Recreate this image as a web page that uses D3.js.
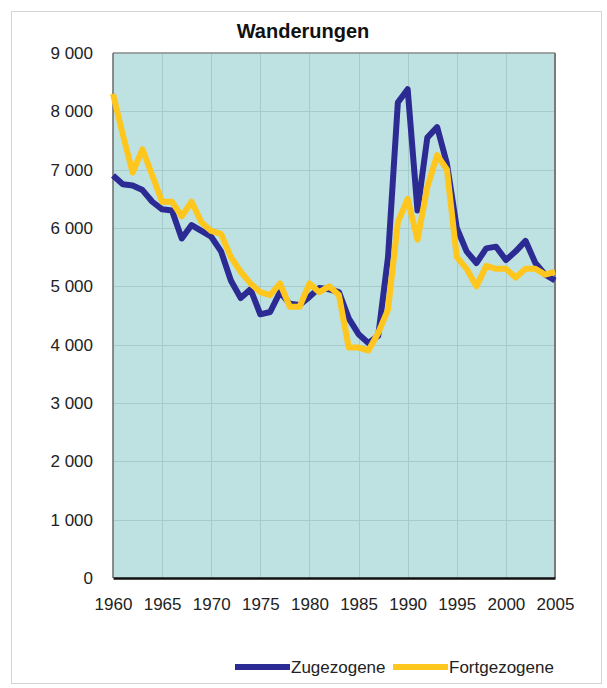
<!DOCTYPE html>
<html>
<head>
<meta charset="utf-8">
<script src="https://cdn.jsdelivr.net/npm/d3@7"></script>
<style>
  html, body { margin: 0; padding: 0; background: #ffffff; }
  svg { display: block; font-family: "Liberation Sans", Arial, sans-serif; }
</style>
</head>
<body>
<svg id="chart" width="607" height="688"></svg>
<script>
// Jahre 1960–2005
const years = d3.range(1960, 2006);

// Zugezogene (Zuzüge je Jahr)
const zugezogene = [
  6900, 6750, 6730, 6650, 6450, 6320, 6300, 5820, 6050, 5950,
  5850, 5600, 5100, 4800, 4950, 4520, 4560, 4900, 4700, 4680,
  4820, 4970, 4950, 4900, 4450, 4180, 4030, 4150, 5500, 8150,
  8380, 6300, 7550, 7730, 7100, 6000, 5600, 5400, 5650, 5680,
  5450, 5600, 5780, 5400, 5200, 5100
];

// Fortgezogene (Fortzüge je Jahr)
const fortgezogene = [
  8300, 7600, 6950, 7350, 6900, 6450, 6450, 6200, 6450, 6100,
  5950, 5900, 5500, 5250, 5050, 4900, 4850, 5050, 4650, 4650,
  5050, 4900, 5000, 4850, 3950, 3950, 3900, 4200, 4600, 6100,
  6500, 5800, 6700, 7250, 7000, 5500, 5300, 5000, 5350, 5300,
  5300, 5150, 5300, 5300, 5200, 5250
];

const xTickYears = [1960, 1965, 1970, 1975, 1980, 1985, 1990, 1995, 2000, 2005];
const yTickValues = [0, 1000, 2000, 3000, 4000, 5000, 6000, 7000, 8000, 9000];
const seriesNames = ["Zugezogene", "Fortgezogene"];
const seriesColors = ["#2b2b93", "#ffc61e"];
const title = "Wanderungen";

const svg = d3.select("#chart");
const plot = { left: 113, right: 555, top: 53, bottom: 578 };

const x = d3.scaleLinear().domain([1960, 2005]).range([plot.left, plot.right]);
const y = d3.scaleLinear().domain([0, 9000]).range([plot.bottom, plot.top]);

// Rahmen um die gesamte Grafik
svg.append("rect")
  .attr("x", 11.5).attr("y", 11.5)
  .attr("width", 590).attr("height", 672)
  .attr("fill", "#ffffff")
  .attr("stroke", "#d4d4d4").attr("stroke-width", 1);

// Titel
svg.append("text")
  .attr("x", 303).attr("y", 38)
  .attr("text-anchor", "middle")
  .attr("font-size", 20).attr("font-weight", "bold")
  .attr("fill", "#111")
  .text(title);

// Zeichenfläche
svg.append("rect")
  .attr("x", plot.left).attr("y", plot.top)
  .attr("width", plot.right - plot.left).attr("height", plot.bottom - plot.top)
  .attr("fill", "#bde2e1");

// Gitternetz
const grid = svg.append("g").attr("stroke", "#a6cbca").attr("stroke-width", 1);
grid.selectAll("line.h").data(yTickValues.slice(1, -1)).join("line")
  .attr("class", "h")
  .attr("x1", plot.left).attr("x2", plot.right)
  .attr("y1", d => Math.round(y(d)) + 0.5).attr("y2", d => Math.round(y(d)) + 0.5);
grid.selectAll("line.v").data(xTickYears.slice(1, -1)).join("line")
  .attr("class", "v")
  .attr("y1", plot.top).attr("y2", plot.bottom)
  .attr("x1", d => Math.round(x(d)) + 0.5).attr("x2", d => Math.round(x(d)) + 0.5);

// Rahmen der Zeichenfläche
svg.append("line")
  .attr("x1", plot.left).attr("x2", plot.right)
  .attr("y1", plot.top).attr("y2", plot.top)
  .attr("stroke", "#8a8a8a").attr("stroke-width", 1.5);
svg.append("line")
  .attr("x1", plot.right).attr("x2", plot.right)
  .attr("y1", plot.top).attr("y2", plot.bottom)
  .attr("stroke", "#7a7a7a").attr("stroke-width", 2);
svg.append("line")
  .attr("x1", plot.left).attr("x2", plot.left)
  .attr("y1", plot.top).attr("y2", plot.bottom)
  .attr("stroke", "#6a6a6a").attr("stroke-width", 1.5);

// Linien
const line = d3.line()
  .x((d, i) => x(years[i]))
  .y(d => y(d))
  .curve(d3.curveLinear);

[zugezogene, fortgezogene].forEach((vals, k) => {
  svg.append("path")
    .datum(vals)
    .attr("fill", "none")
    .attr("stroke", seriesColors[k])
    .attr("stroke-width", 6)
    .attr("stroke-linejoin", "round")
    .attr("d", line);
});

// x-Achse
const fmtNum = v => d3.format(",")(v).replace(/,/g, " ");
const xAxis = svg.append("g")
  .attr("transform", `translate(0,${plot.bottom})`)
  .call(d3.axisBottom(x).tickValues(xTickYears).tickFormat(d3.format("d")).tickSize(0).tickPadding(20));
xAxis.select(".domain").attr("stroke", "#111").attr("stroke-width", 2.5);
xAxis.selectAll("text")
  .attr("font-size", 17).attr("fill", "#222")
  .attr("font-family", "Liberation Sans, Arial, sans-serif");

// y-Achse
const yAxis = svg.append("g")
  .attr("transform", `translate(${plot.left},0)`)
  .call(d3.axisLeft(y).tickValues(yTickValues).tickFormat(fmtNum).tickSize(0).tickPadding(20));
yAxis.select(".domain").remove();
yAxis.selectAll("text")
  .attr("font-size", 17).attr("fill", "#222")
  .attr("font-family", "Liberation Sans, Arial, sans-serif");

// Legende
const legend = svg.append("g").attr("font-size", 17).attr("fill", "#222");
const legendX = [235, 393];
seriesNames.forEach((name, k) => {
  legend.append("line")
    .attr("x1", legendX[k]).attr("x2", legendX[k] + 55)
    .attr("y1", 667).attr("y2", 667)
    .attr("stroke", seriesColors[k]).attr("stroke-width", 6);
  legend.append("text")
    .attr("x", legendX[k] + 56).attr("y", 673)
    .text(name);
});
</script>
</body>
</html>
